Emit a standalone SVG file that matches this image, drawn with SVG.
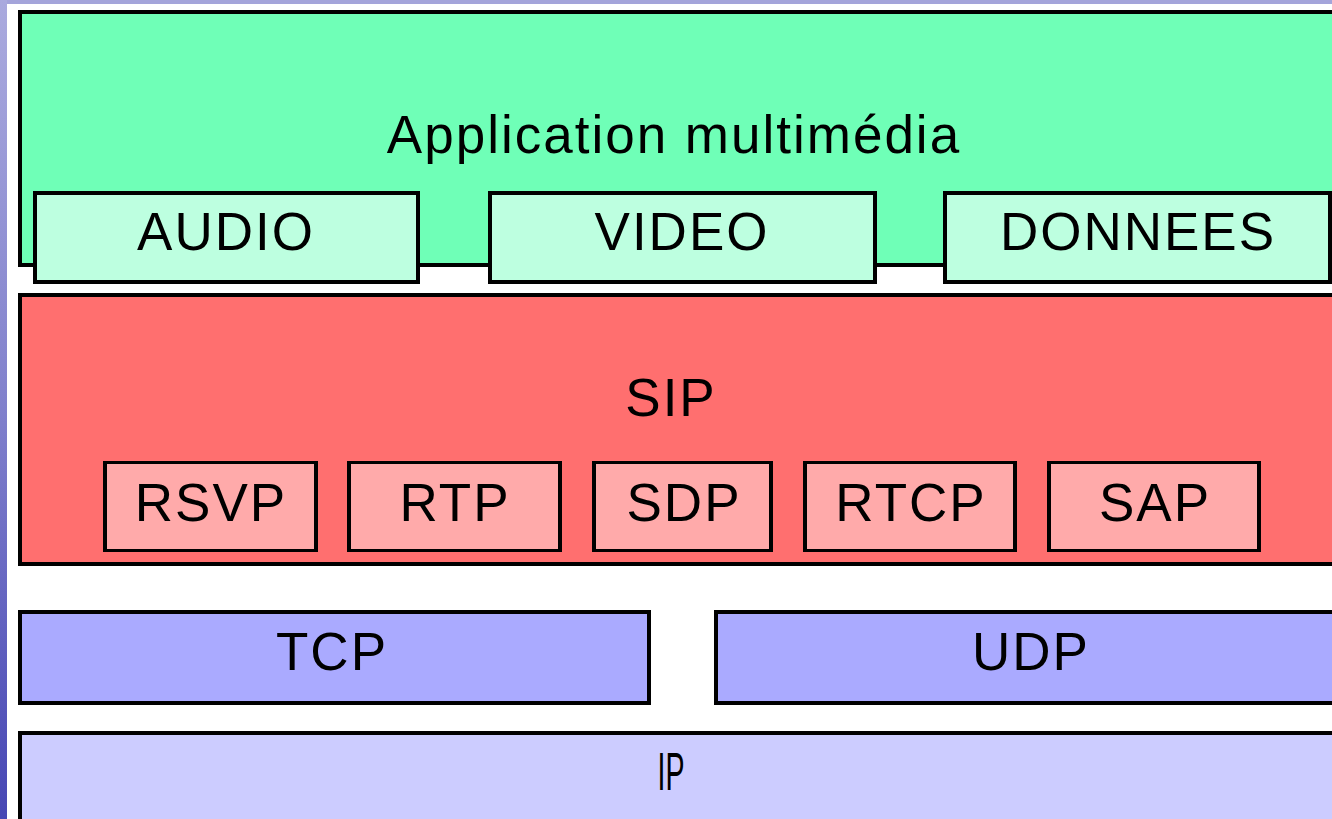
<svg xmlns="http://www.w3.org/2000/svg" width="1332" height="819" viewBox="0 0 1332 819">
  <defs>
    <linearGradient id="stripe" x1="0" y1="0" x2="0" y2="1">
      <stop offset="0" stop-color="#aaaade"/>
      <stop offset="0.5" stop-color="#8080cc"/>
      <stop offset="1" stop-color="#4646b4"/>
    </linearGradient>
  </defs>
  <style>
    .box { stroke: #000; stroke-width: 4; shape-rendering: crispEdges; }
    .inner { stroke: #000; stroke-width: 3.5; shape-rendering: crispEdges; }
    .app { fill: #6fffb7; }
    .appsub { fill: #bdffe0; }
    .sip { fill: #ff6f6f; }
    .sipsub { fill: #ffaaaa; }
    .tr { fill: #aaaaff; }
    .ip { fill: #ccccff; }
    text { font-family: "Liberation Sans", Arial, sans-serif; font-size: 53px; fill: #000; text-anchor: middle; letter-spacing: 2px; }
  </style>
  <rect x="0" y="0" width="1332" height="819" fill="#ffffff"/>
  <rect x="0" y="0" width="1332" height="4" fill="#a4a4da"/>
  <rect x="0" y="0" width="7" height="819" fill="url(#stripe)"/>

  <g id="application">
    <rect class="box app" x="20" y="12" width="1330" height="253"/>
    <text x="674" y="153">Application multimédia</text>
  </g>
  <g id="audio">
    <rect class="box appsub" x="35" y="193" width="383" height="88.5"/>
    <text x="226" y="250">AUDIO</text>
  </g>
  <g id="video">
    <rect class="box appsub" x="490" y="193" width="385" height="88.5"/>
    <text x="682" y="250">VIDEO</text>
  </g>
  <g id="donnees">
    <rect class="box appsub" x="945" y="193" width="385" height="88.5"/>
    <text x="1138" y="250">DONNEES</text>
  </g>

  <g id="sip">
    <rect class="box sip" x="20" y="294.5" width="1330" height="269.5"/>
    <text x="671" y="416">SIP</text>
  </g>
  <g id="rsvp">
    <rect class="inner sipsub" x="105" y="462.5" width="211" height="88"/>
    <text x="211" y="521">RSVP</text>
  </g>
  <g id="rtp">
    <rect class="inner sipsub" x="349" y="462.5" width="211" height="88"/>
    <text x="455" y="521">RTP</text>
  </g>
  <g id="sdp">
    <rect class="inner sipsub" x="594" y="462.5" width="177" height="88"/>
    <text x="684" y="521">SDP</text>
  </g>
  <g id="rtcp">
    <rect class="inner sipsub" x="805" y="462.5" width="210" height="88"/>
    <text x="911" y="521">RTCP</text>
  </g>
  <g id="sap">
    <rect class="inner sipsub" x="1049" y="462.5" width="210" height="88"/>
    <text x="1155" y="521">SAP</text>
  </g>

  <g id="tcp">
    <rect class="box tr" x="20" y="612" width="629" height="91"/>
    <text x="332" y="670">TCP</text>
  </g>
  <g id="udp">
    <rect class="box tr" x="716" y="612" width="640" height="91"/>
    <text x="1031" y="670">UDP</text>
  </g>
  <g id="ip">
    <rect class="box ip" x="20" y="732.5" width="1330" height="100"/>
    <text x="671" y="790" textLength="27" lengthAdjust="spacingAndGlyphs" style="letter-spacing:0">IP</text>
  </g>
  <g id="connectors"/>
</svg>
